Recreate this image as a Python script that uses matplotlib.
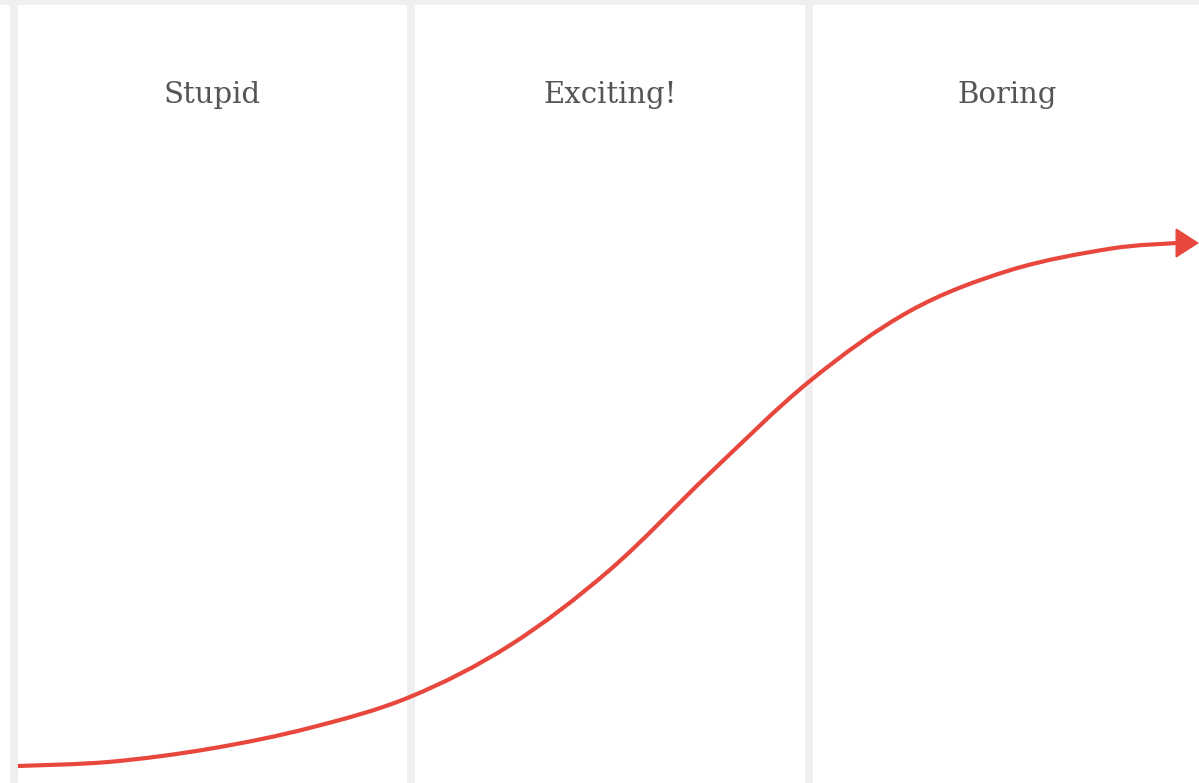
import matplotlib
matplotlib.use('Agg')
import matplotlib.pyplot as plt
from matplotlib.path import Path
from matplotlib.patches import PathPatch

# phases of the curve (one panel each)
phases = ['Stupid', 'Exciting!', 'Boring']

# curve: x in phase units, y as share of the final level
curve_x = [0.011, 0.243, 0.494, 0.746, 0.997, 1.249, 1.500, 1.752, 2.003,
           2.255, 2.507, 2.758, 2.927]
curve_y = [0.0, 0.008, 0.033, 0.073, 0.132, 0.231, 0.375, 0.560, 0.736,
           0.870, 0.948, 0.989, 1.0]
arrow_tip = (2.982, 1.0)

red = '#e8473d'
grey = '#efefef'
text_col = '#555555'


def smooth_path(xs, ys):
    # catmull-rom through the read points, drawn as cubic bezier segments
    pts = list(zip(xs, ys))
    verts = [pts[0]]
    codes = [Path.MOVETO]
    for i in range(len(pts) - 1):
        p0 = pts[i - 1] if i > 0 else pts[i]
        p1 = pts[i]
        p2 = pts[i + 1]
        p3 = pts[i + 2] if i + 2 < len(pts) else pts[i + 1]
        c1 = (p1[0] + (p2[0] - p0[0]) / 6, p1[1] + (p2[1] - p0[1]) / 6)
        c2 = (p2[0] - (p3[0] - p1[0]) / 6, p2[1] - (p3[1] - p1[1]) / 6)
        verts += [c1, c2, p2]
        codes += [Path.CURVE4] * 3
    return Path(verts, codes)


fig = plt.figure(figsize=(11.99, 7.83), dpi=100)
ax = fig.add_axes([0, 0, 1, 1])
ax.set_xlim(-0.034, 2.982)
ax.set_ylim(-0.0325, 1.4646)
ax.set_facecolor('white')
ax.axis('off')

# panel dividers and top strip
for i in range(len(phases)):
    ax.axvline(i, color=grey, lw=5.5, zorder=1)
ax.axhspan(1.455, 1.47, color=grey, lw=0, zorder=1)

# phase labels
for i, name in enumerate(phases):
    ax.text(i + 0.5, 1.283, name, ha='center', va='center', fontsize=21,
            family='DejaVu Serif', color=text_col)

# the curve and its arrow head
ax.add_patch(PathPatch(smooth_path(curve_x, curve_y), fill=False,
                       edgecolor=red, lw=3, capstyle='butt', zorder=3))
ax.annotate('', xy=arrow_tip, xytext=(curve_x[-1], curve_y[-1]),
            arrowprops=dict(arrowstyle='-|>,head_length=0.62,head_width=0.4',
                            mutation_scale=25, color=red, lw=1,
                            joinstyle='miter', shrinkA=0, shrinkB=0),
            zorder=4)

fig.savefig('out.png', dpi=100, facecolor='white')
